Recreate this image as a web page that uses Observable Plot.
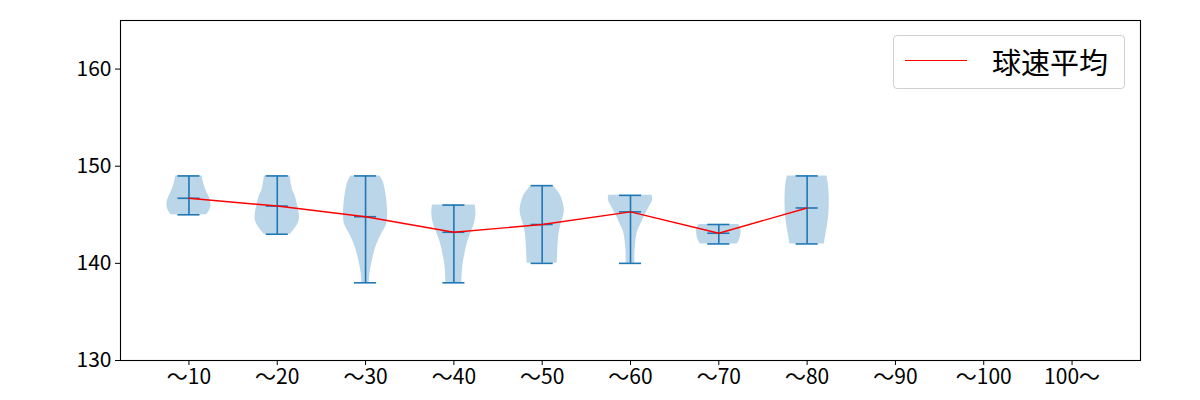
<!DOCTYPE html>
<html>
<head>
<meta charset="utf-8">
<script src="https://cdn.jsdelivr.net/npm/d3@7"></script>
<script src="https://cdn.jsdelivr.net/npm/@observablehq/plot@0.6"></script>
<style>
  html, body { margin: 0; padding: 0; background: #fff; }
  #wrap { position: relative; width: 1200px; height: 400px; font-family: "Noto Sans CJK JP", "Noto Sans", sans-serif; }
  #legend { position: absolute; left: 893px; top: 35px; width: 232px; height: 54px; border: 1px solid #d0d0d0; border-radius: 4px; background: rgba(255,255,255,0.8); box-sizing: border-box; }
  #legend .ln { position: absolute; left: 11px; top: 24px; width: 62px; height: 0; border-top: 1.5px solid red; }
  #legend .tx { position: absolute; left: 98px; top: 4px; font-size: 29px; line-height: 42px; color: #000; }
</style>
</head>
<body>
<div id="wrap"></div>
<script>
const categories = ["～10","～20","～30","～40","～50","～60","～70","～80","～90","～100","100～"];
const groupIndex = [1,2,3,4,5,6,7,8];
const means = [146.7, 145.9, 144.8, 143.2, 144.0, 145.3, 143.1, 145.7];
const mins  = [145, 143, 138, 138, 140, 140, 142, 142];
const maxs  = [149, 149, 149, 146, 148, 147, 144, 149];
const yTicks = [130, 140, 150, 160];
const legendLabel = "球速平均";

// density profiles [speed, relative density]
const dens1 = [[145,0.8],[145.5,0.95],[146,1.0],[146.5,0.97],[147,0.88],[147.5,0.78],[148,0.7],[148.5,0.64],[149,0.6]];
const dens2 = [[143,0.6],[143.5,0.78],[144,0.92],[144.5,1.0],[145,1.0],[146,0.92],[147,0.8],[147.5,0.7],[148,0.65],[149,0.58]];
const dens3 = [[138,0.17],[139,0.2],[140,0.28],[141,0.38],[142,0.52],[143,0.72],[144,0.95],[145,1.0],[146,0.98],[147,0.93],[148,0.85],[148.5,0.78],[149,0.65]];
const dens4 = [[138,0.36],[139,0.38],[140,0.42],[141,0.5],[142,0.6],[143,0.75],[144,0.92],[145,1.0],[146,0.97]];
const dens5 = [[140,0.68],[141,0.7],[142,0.72],[143,0.76],[144,0.85],[145,0.98],[145.5,1.0],[146,0.97],[147,0.83],[147.5,0.68],[148,0.5]];
const dens6 = [[140,0.2],[141,0.2],[142,0.23],[143,0.29],[143.5,0.36],[144,0.46],[144.5,0.56],[145,0.66],[145.5,0.78],[146,0.9],[146.5,1.0],[147,0.98]];
const dens7 = [[142,0.85],[142.5,0.95],[143,1.0],[143.5,1.0],[144,0.9]];
const dens8 = [[142,0.78],[143,0.85],[144,0.93],[145,0.98],[146,1.0],[147,1.0],[148,0.97],[149,0.9]];
const densities = [dens1, dens2, dens3, dens4, dens5, dens6, dens7, dens8];

const halfW = 0.25;   // max half-width of a violin in x units
const capW = 0.125;

const bodies = densities.flatMap((arr, gi) => arr.map(([s, d]) => ({g: groupIndex[gi], speed: s, d})));
const stats = groupIndex.map((g, i) => ({g, mean: means[i], min: mins[i], max: maxs[i]}));

const blue = "#1f77b4";
const chart = Plot.plot({
  width: 1200,
  height: 400,
  marginLeft: 120,
  marginRight: 60,
  marginTop: 20,
  marginBottom: 40,
  style: {fontFamily: '"Noto Sans CJK JP", "Noto Sans", sans-serif', fontSize: "21px", color: "#000", background: "#fff"},
  x: {domain: [0.225, 11.775], axis: null},
  y: {domain: [130, 165], axis: null},
  marks: [
    Plot.areaX(bodies, {y: "speed", x1: d => d.g - halfW * d.d, x2: d => d.g + halfW * d.d, z: "g", fill: blue, fillOpacity: 0.3, curve: "catmull-rom"}),
    Plot.ruleX(stats, {x: "g", y1: "min", y2: "max", stroke: blue, strokeWidth: 1.6}),
    Plot.ruleY(stats, {y: "min", x1: d => d.g - capW, x2: d => d.g + capW, stroke: blue, strokeWidth: 1.6}),
    Plot.ruleY(stats, {y: "max", x1: d => d.g - capW, x2: d => d.g + capW, stroke: blue, strokeWidth: 1.6}),
    Plot.ruleY(stats, {y: "mean", x1: d => d.g - capW, x2: d => d.g + capW, stroke: blue, strokeWidth: 1.6}),
    Plot.line(stats, {x: "g", y: "mean", stroke: "red", strokeWidth: 1.4}),
    Plot.axisX(d3.range(1, categories.length + 1), {tickFormat: i => categories[i - 1], tickSize: 5, tickPadding: 4, fontSize: 21, stroke: "#000", strokeWidth: 1, label: null}),
    Plot.axisY(yTicks, {tickSize: 5, tickPadding: 4, fontSize: 21, stroke: "#000", strokeWidth: 1, label: null}),
    Plot.frame({stroke: "#000", strokeWidth: 1.1})
  ]
});
const wrap = document.getElementById("wrap");
wrap.appendChild(chart);
const lg = document.createElement("div");
lg.id = "legend";
lg.innerHTML = `<div class="ln"></div><div class="tx">${legendLabel}</div>`;
wrap.appendChild(lg);
</script>
</body>
</html>
